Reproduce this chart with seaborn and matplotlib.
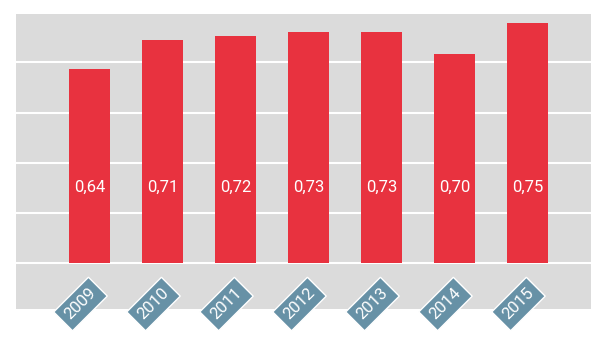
import matplotlib
matplotlib.use("Agg")
import matplotlib.pyplot as plt
import seaborn as sns
import pandas as pd
import numpy as np

years = ["2009", "2010", "2011", "2012", "2013", "2014", "2015"]
values = [0.64, 0.71, 0.72, 0.73, 0.73, 0.676, 0.75]
labels = ["0,64", "0,71", "0,72", "0,73", "0,73", "0,70", "0,75"]

BASE = 0.176        # value at the baseline of the bars
STEP = 0.12         # gridline spacing

sns.set_style("white")
plt.rcParams["font.family"] = ["Roboto", "DejaVu Sans"]

df = pd.DataFrame({"year": years, "height": np.array(values) - BASE})

fig = plt.figure(figsize=(6.02, 3.40), dpi=100)
ax = fig.add_axes([16 / 602, 1 - 309 / 340, (591 - 16) / 602, (309 - 14) / 340])
ax.set_facecolor("#DBDBDB")

sns.barplot(data=df, x="year", y="height", color="#E8323F", saturation=1,
            width=0.56, ax=ax, zorder=3, edgecolor="none", linewidth=0)

ax.set_xlim(-1.007, 6.87)
ax.set_ylim(-0.11, 0.596)
ax.set_yticks([STEP * k for k in range(5)])
ax.yaxis.grid(True, color="white", lw=1.5, zorder=1)
ax.set_axisbelow(True)
for s in ax.spines.values():
    s.set_visible(False)
ax.set_xticks([])
ax.set_yticklabels([])
ax.tick_params(left=False, bottom=False)
ax.set_xlabel("")
ax.set_ylabel("")

for i, lab in enumerate(labels):
    ax.text(i, 0.18, lab, color="white", ha="center", va="center",
            fontsize=12, fontweight="normal", zorder=5)

for i, yr in enumerate(years):
    ax.annotate(yr, xy=(i, 0), xytext=(-9, -41), textcoords="offset pixels",
                rotation=45, rotation_mode="anchor", ha="center", va="center",
                color="white", fontsize=12, fontweight="normal",
                bbox=dict(boxstyle="square,pad=0.35", fc="#6791A6", ec="white", lw=1),
                annotation_clip=False, zorder=6)

fig.savefig("out.png", dpi=100)
